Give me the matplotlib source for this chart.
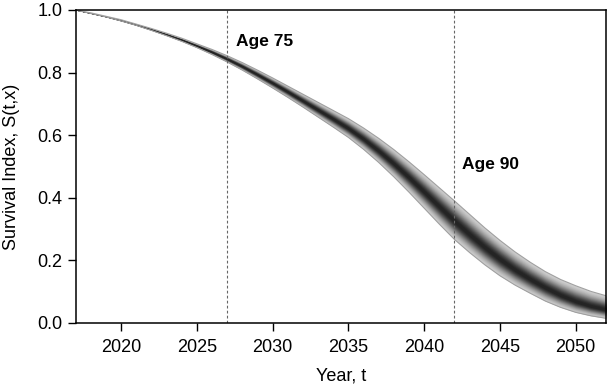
import numpy as np
import matplotlib
matplotlib.use('Agg')
import matplotlib.pyplot as plt

plt.rcParams['font.family'] = 'Liberation Sans'

years = list(range(2017, 2053))
median = [1.000, 0.990, 0.979, 0.967, 0.953, 0.938, 0.922, 0.905, 0.886, 0.866,
          0.844, 0.820, 0.794, 0.767, 0.739, 0.710, 0.681, 0.652, 0.622, 0.588,
          0.550, 0.509, 0.465, 0.419, 0.372, 0.326, 0.283, 0.242, 0.204, 0.170,
          0.140, 0.113, 0.089, 0.069, 0.054, 0.043]
lower = [1.000, 0.989, 0.978, 0.965, 0.951, 0.935, 0.918, 0.900, 0.880, 0.858,
         0.834, 0.808, 0.780, 0.751, 0.721, 0.690, 0.658, 0.626, 0.593, 0.555,
         0.513, 0.467, 0.418, 0.367, 0.316, 0.267, 0.225, 0.186, 0.151, 0.121,
         0.095, 0.070, 0.050, 0.034, 0.023, 0.015]
upper = [1.000, 0.991, 0.980, 0.969, 0.955, 0.941, 0.926, 0.910, 0.892, 0.874,
         0.854, 0.832, 0.808, 0.783, 0.757, 0.731, 0.705, 0.679, 0.653, 0.623,
         0.590, 0.554, 0.515, 0.474, 0.432, 0.390, 0.347, 0.304, 0.264, 0.227,
         0.194, 0.164, 0.139, 0.119, 0.101, 0.087]

age_lines = [2027, 2042]
age_labels = ['Age 75', 'Age 90']

x = np.array(years)
med = np.array(median)
lo = np.array(lower)
hi = np.array(upper)

fig = plt.figure(figsize=(6.07, 3.87), dpi=100)
ax = fig.add_axes([0.1244, 0.1654, 0.874, 0.8088])

# fan shading: light at the outer edge, dark toward the median
for f in np.linspace(1.0, 0.01, 70):
    z = f * 2.3
    g = 0.88 - 0.74 * np.exp(-z ** 2 / 2)
    ax.fill_between(x, med - f * (med - lo), med + f * (hi - med),
                    color=(g, g, g), lw=0)
ax.plot(x, lo, color='#a0a0a0', lw=0.8)
ax.plot(x, hi, color='#a0a0a0', lw=0.8)

for yr in age_lines:
    ax.axvline(yr, color='#666666', lw=0.8, ls=(0, (2.5, 2)))
ax.text(2027.6, 0.90, age_labels[0], fontsize=12.5, fontweight='bold', va='center')
ax.text(2042.5, 0.507, age_labels[1], fontsize=12.5, fontweight='bold', va='center')

ax.set_xlim(2017, 2052)
ax.set_ylim(0, 1.0)
ax.set_xticks([2020, 2025, 2030, 2035, 2040, 2045, 2050])
ax.set_yticks([0.0, 0.2, 0.4, 0.6, 0.8, 1.0])
ax.set_yticklabels(['0.0', '0.2', '0.4', '0.6', '0.8', '1.0'])
ax.tick_params(direction='out', length=5.5, width=1, labelsize=13)
ax.tick_params(axis='x', pad=6)
ax.tick_params(axis='y', pad=4)
for s in ax.spines.values():
    s.set_linewidth(1.1)
ax.set_xlabel('Year, t', fontsize=13, labelpad=8)
ax.set_ylabel('Survival Index, S(t,x)', fontsize=13)
ax.yaxis.set_label_coords(-0.105, 0.5)

fig.savefig('out.png', dpi=100)
